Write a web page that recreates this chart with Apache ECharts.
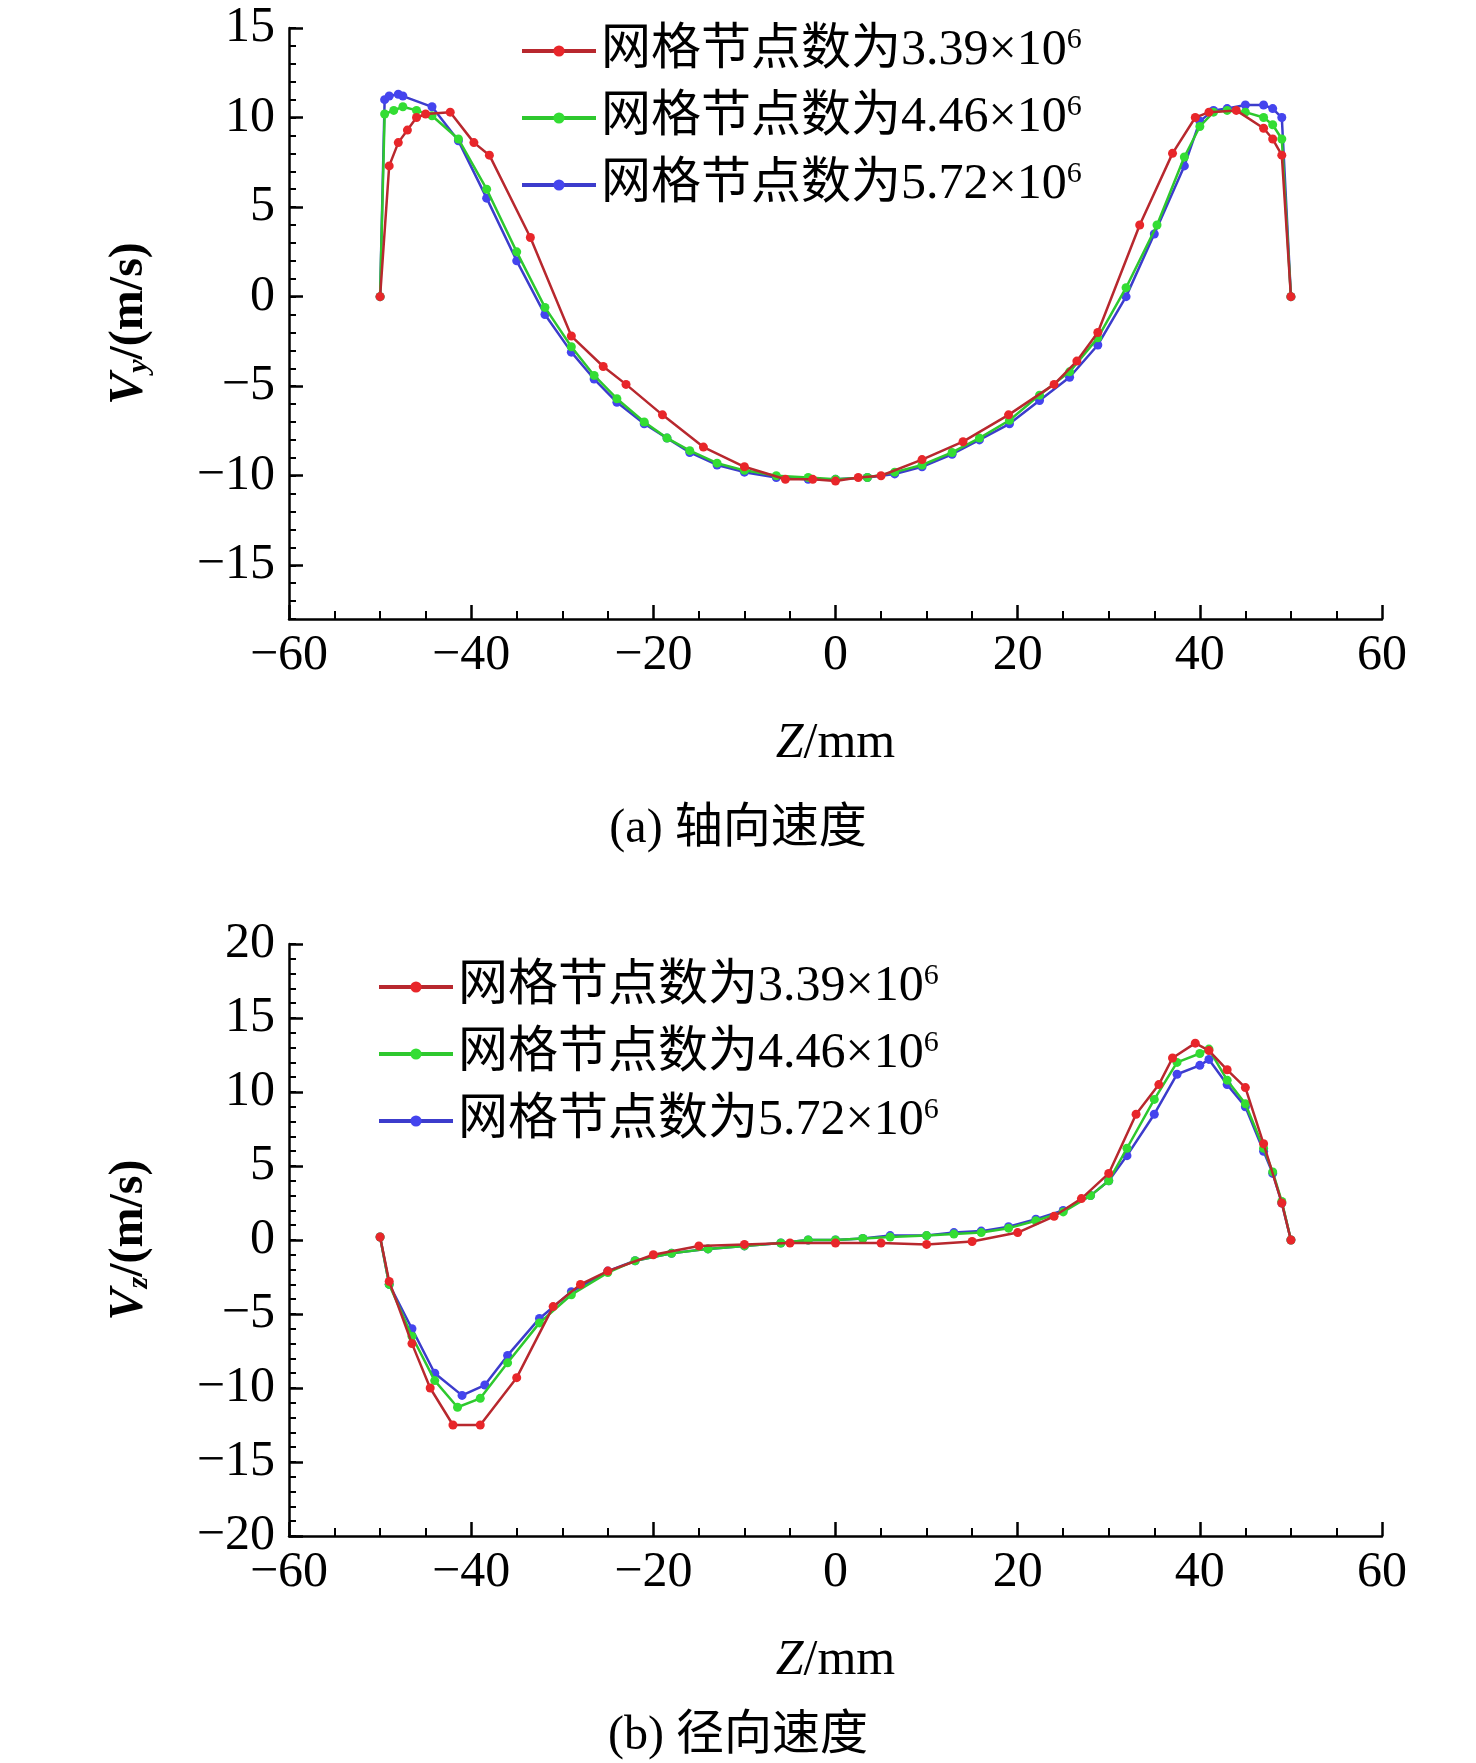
<!DOCTYPE html>
<html><head><meta charset="utf-8">
<script src="https://cdn.jsdelivr.net/npm/echarts@6/dist/echarts.min.js"></script>
<style>html,body{margin:0;background:#fff}#c{width:1476px;height:1763px}</style>
</head><body><div id="c"></div>
<script>
const seriesNames = ['网格节点数为3.39×10^6','网格节点数为4.46×10^6','网格节点数为5.72×10^6'];
// (a) axial velocity Vy: [Z, Vy]
const vyRed = [[-50,0],[-49,7.3],[-48,8.6],[-47,9.3],[-46,10.0],[-45,10.2],[-42.3,10.3],[-39.7,8.6],[-38,7.9],[-33.5,3.3],[-29,-2.2],[-25.5,-3.9],[-23,-4.9],[-19,-6.6],[-14.5,-8.4],[-10,-9.5],[-5.5,-10.2],[-2.5,-10.2],[0,-10.3],[2.5,-10.1],[5,-10.0],[9.5,-9.1],[14,-8.1],[19,-6.6],[24,-4.9],[26.5,-3.6],[28.8,-2.0],[33.4,4.0],[37,8.0],[39.5,10.0],[41,10.3],[44,10.4],[47,9.4],[48,8.8],[49,7.9],[50,0]];
const vyGreen = [[-50,0],[-49.5,10.2],[-48.5,10.4],[-47.5,10.6],[-46,10.4],[-44.3,10.1],[-41.4,8.8],[-38.3,6.0],[-35,2.5],[-31.9,-0.6],[-29,-2.8],[-26.5,-4.4],[-24,-5.7],[-21,-7.0],[-18.5,-7.9],[-16,-8.6],[-13,-9.3],[-10,-9.7],[-6.5,-10.0],[-3,-10.1],[0,-10.2],[3.5,-10.1],[6.5,-9.8],[9.5,-9.4],[12.8,-8.7],[15.8,-7.9],[19.1,-6.9],[22.4,-5.5],[25.7,-4.2],[28.8,-2.3],[31.9,0.5],[35.3,4.0],[38.3,7.8],[40,9.5],[41.5,10.3],[43,10.4],[45,10.3],[47,10.0],[48,9.6],[49,8.8],[50,0]];
const vyBlue = [[-50,0],[-49.5,11.0],[-49,11.2],[-48,11.3],[-47.5,11.2],[-44.3,10.6],[-41.4,8.7],[-38.3,5.5],[-35,2.0],[-31.9,-1.0],[-29,-3.1],[-26.5,-4.6],[-24,-5.9],[-21,-7.1],[-18.5,-7.9],[-16,-8.7],[-13,-9.4],[-10,-9.8],[-6.5,-10.1],[-3,-10.2],[0,-10.2],[3.5,-10.1],[6.5,-9.9],[9.5,-9.5],[12.8,-8.8],[15.8,-8.0],[19.1,-7.1],[22.4,-5.8],[25.7,-4.5],[28.8,-2.7],[31.9,0],[35,3.5],[38.3,7.3],[40,9.8],[41.5,10.4],[43,10.5],[45,10.7],[47,10.7],[48,10.5],[49,10.0],[50,0]];
// (b) radial velocity Vz: [Z, Vz]
const vzRed = [[-50,0.2],[-49,-2.8],[-46.5,-7],[-44.5,-10],[-42,-12.5],[-39,-12.5],[-35,-9.3],[-31,-4.5],[-28,-3],[-25,-2.1],[-20,-1],[-15,-0.4],[-10,-0.3],[-5,-0.2],[0,-0.2],[5,-0.2],[10,-0.3],[15,-0.1],[20,0.5],[24,1.6],[27,2.8],[30,4.5],[33,8.5],[35.5,10.5],[37,12.3],[39.5,13.3],[41,12.8],[43,11.5],[45,10.3],[47,6.5],[49,2.5],[50,0]];
const vzGreen = [[-50,0.2],[-49,-3],[-46.5,-6.5],[-44,-9.5],[-41.5,-11.3],[-39,-10.7],[-36,-8.3],[-32.5,-5.6],[-29,-3.7],[-25,-2.2],[-22,-1.4],[-18,-0.9],[-14,-0.6],[-10,-0.4],[-6,-0.2],[-3,0],[0,0],[3,0.1],[6,0.2],[10,0.3],[13,0.4],[16,0.5],[19,0.8],[22,1.3],[25,1.9],[28,3.0],[30,4.0],[32,6.2],[35,9.5],[37.5,12.0],[40,12.6],[41,12.9],[43,10.8],[45,9.2],[47,6.2],[48,4.6],[49,2.6],[50,0]];
const vzBlue = [[-50,0.2],[-49,-3],[-46.5,-6],[-44,-9],[-41,-10.5],[-38.5,-9.8],[-36,-7.8],[-32.5,-5.3],[-29,-3.5],[-25,-2.1],[-22,-1.4],[-18,-0.9],[-14,-0.6],[-10,-0.4],[-6,-0.2],[-3,0],[0,0],[3,0.1],[6,0.3],[10,0.3],[13,0.5],[16,0.6],[19,0.9],[22,1.4],[25,2.0],[28,3.0],[30,4.0],[32,5.7],[35,8.5],[37.5,11.2],[40,11.8],[41,12.2],[43,10.5],[45,9.0],[47,6.0],[48,4.5],[49,2.5],[50,0]];
const xTicks = [-60,-40,-20,0,20,40,60];
const vyTicks = [-15,-10,-5,0,5,10,15];
const vzTicks = [-20,-15,-10,-5,0,5,10,15,20];

const FONT = '"Liberation Serif","Noto Sans CJK SC",serif';
const colors = [['#b8282e','#e8262a'],['#2ec82e','#33dd33'],['#3c3ccc','#4444ee']];
const base = {fontFamily: FONT, color: '#000'};
const minus = v => String(v).replace('-','−');

function xAxis(gi){
  return {type:'value', gridIndex:gi, min:-60, max:60, interval:20,
    axisLine:{onZero:false,lineStyle:{color:'#000',width:2.5}},
    axisTick:{inside:true,length:14,lineStyle:{color:'#000',width:2.5}},
    minorTick:{show:true,splitNumber:4,length:8,lineStyle:{color:'#000',width:2}},
    axisLabel:{...base,fontSize:50,margin:12,formatter:minus},
    splitLine:{show:false},
    name:'{i|Z}/mm', nameLocation:'middle', nameGap:100,
    nameTextStyle:{...base,fontSize:50,rich:{i:{...base,fontSize:50,fontStyle:'italic'}}}};
}
function yAxes(gi,min,max,ticks,sub){
  return [{type:'value', gridIndex:gi, min:min, max:max,
    axisLine:{onZero:false,lineStyle:{color:'#000',width:2.5}},
    axisTick:{inside:true,length:14,customValues:ticks,lineStyle:{color:'#000',width:2.5}},
    axisLabel:{...base,fontSize:50,margin:14,customValues:ticks,formatter:minus},
    splitLine:{show:false},
    name:'{i|V}{s|'+sub+'}{n|/(m/s)}', nameLocation:'middle', nameGap:135, nameRotate:90,
    nameTextStyle:{...base,fontSize:48,fontWeight:'bold',rich:{
      i:{...base,fontSize:48,fontStyle:'italic',fontWeight:'bold'},
      s:{...base,fontSize:30,fontStyle:'italic',verticalAlign:'bottom',padding:[18,0,0,0]},
      n:{...base,fontSize:48,fontWeight:'bold'}}}},
   {type:'value', gridIndex:gi, min:min, max:max, interval:1, position:'left',
    axisLine:{show:false,onZero:false}, axisLabel:{show:false}, splitLine:{show:false},
    axisTick:{show:true,inside:true,length:7,lineStyle:{color:'#000',width:2}}}];
}
function ser(data,k,xi,yi){
  return {type:'line', name:seriesNames[k], data:data, xAxisIndex:xi, yAxisIndex:yi,
    symbol:'circle', symbolSize:9, lineStyle:{color:colors[k][0],width:2.5},
    itemStyle:{color:colors[k][1]}, z:3-k+2};
}
function legendFmt(n){ const p=n.split('^'); return '{a|'+p[0]+'}{s|'+p[1]+'}'; }
function legend(left,top){
  return {left:left, top:top, orient:'vertical', itemWidth:74, itemHeight:14, itemGap:16,
    data:seriesNames.map((n,k)=>({name:n,itemStyle:{color:colors[k][1]},lineStyle:{color:colors[k][0],width:4}})),
    formatter:legendFmt,
    textStyle:{...base,fontSize:50,rich:{a:{...base,fontSize:50},s:{...base,fontSize:30,verticalAlign:'top',padding:[0,0,22,0]}}}};
}
const chart = echarts.init(document.getElementById('c'));
const yA = yAxes(0,-18,15,vyTicks,'y'), yB = yAxes(1,-20,20,vzTicks,'z');
chart.setOption({
  animation:false, backgroundColor:'#fff',
  grid:[{left:289,width:1093,top:28,height:591},{left:289,width:1093,top:944,height:592}],
  xAxis:[xAxis(0),xAxis(1)],
  yAxis:[yA[0],yA[1],yB[0],yB[1]],
  legend:[legend(515,20),legend(372,956)],
  series:[ser(vyRed,0,0,0),ser(vyGreen,1,0,0),ser(vyBlue,2,0,0),
          ser(vzRed,0,1,2),ser(vzGreen,1,1,2),ser(vzBlue,2,1,2)],
  graphic:[
    {type:'text',left:'center',top:805,style:{text:'(a) 轴向速度',font:'48px '+FONT,fill:'#000'}},
    {type:'text',left:'center',top:1712,style:{text:'(b) 径向速度',font:'48px '+FONT,fill:'#000'}}
  ]
});
</script></body></html>
